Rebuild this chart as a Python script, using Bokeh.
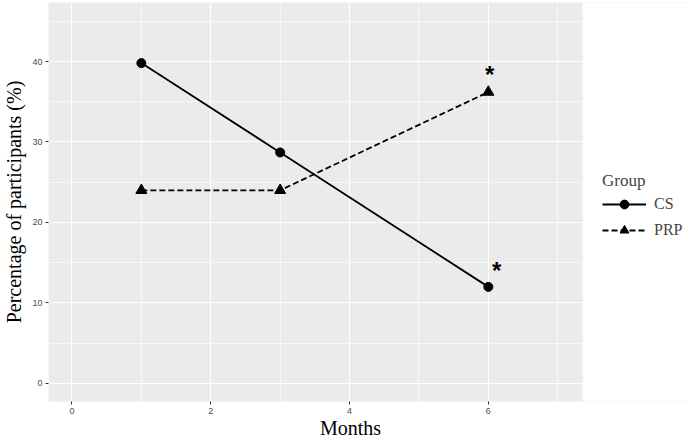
from bokeh.plotting import figure
from bokeh.models import Legend, LegendItem, FixedTicker, Range1d, BoxAnnotation
from bokeh.core.properties import value
from bokeh.embed import file_html
from bokeh.resources import INLINE

# data
months = [1, 3, 6]
cs_values = [39.8, 28.7, 12.0]
prp_values = [24.0, 24.0, 36.2]
star_x = [6.02, 6.12]
star_y = [38.37, 14.0]
x_ticks = [0, 2, 4, 6]
y_ticks = [0, 10, 20, 30, 40]
panel_right = 7.36  # end of the grey panel in data units

p = figure(width=687, height=442, output_backend="svg", toolbar_location=None,
           x_range=Range1d(-0.338, 8.87), y_range=Range1d(-2.24, 47.33),
           min_border_left=47, min_border_right=0, min_border_top=2,
           min_border_bottom=41)

p.background_fill_color = "#EBEBEB"
p.border_fill_color = "white"
p.outline_line_color = None

for ax in (p.xaxis[0], p.yaxis[0]):
    ax.axis_line_color = None
    ax.major_tick_line_color = "#333333"
    ax.major_tick_out = 3
    ax.major_tick_in = 0
    ax.minor_tick_line_color = None
    ax.major_label_text_color = "#4D4D4D"
    ax.major_label_text_font = "Liberation Sans"
    ax.major_label_text_font_size = "9px"
    ax.major_label_standoff = 2
    ax.axis_label_text_font = "Liberation Serif"
    ax.axis_label_text_font_style = "normal"
    ax.axis_label_text_font_size = "20px"
    ax.axis_label_text_color = "black"

p.xaxis.ticker = FixedTicker(ticks=x_ticks, minor_ticks=[1, 3, 5, 7])
p.yaxis.ticker = FixedTicker(ticks=y_ticks, minor_ticks=[5, 15, 25, 35, 45])

p.yaxis.axis_label = "Percentage of participants (%)"
p.yaxis.axis_label_standoff = 4
p.xaxis.axis_label = "Months" + "\u00a0" * 7
p.xaxis.axis_label_standoff = 0

for g in (p.xgrid[0], p.ygrid[0]):
    g.grid_line_color = "white"
    g.grid_line_width = 1.2
    g.minor_grid_line_color = "white"
    g.minor_grid_line_width = 0.6

# white area to the right of the grey panel (legend area)
p.add_layout(BoxAnnotation(left=panel_right, fill_color="white", fill_alpha=1,
                           line_color=None))

cs_line = p.line(months, cs_values, line_color="black", line_width=1.8)
cs_pts = p.scatter(months, cs_values, marker="circle", size=9, fill_color="black",
                   line_color="black")
prp_line = p.line(months, prp_values, line_color="black", line_width=1.8,
                  line_dash="6 3")
prp_pts = p.scatter(months, prp_values, marker="triangle", size=11,
                    fill_color="black", line_color="black")

p.text(star_x, star_y, text=["*", "*"], text_font=value("Liberation Sans"),
       text_font_size="24px", text_font_style="bold", text_align="center",
       text_baseline="middle", text_color="black")

legend = Legend(items=[LegendItem(label="CS", renderers=[cs_line, cs_pts]),
                       LegendItem(label="PRP", renderers=[prp_line, prp_pts])],
                location=(554, 160), title="Group")
legend.title_text_font = "Liberation Serif"
legend.title_text_font_size = "17px"
legend.title_text_font_style = "normal"
legend.title_standoff = 2
legend.label_text_font = "Liberation Serif"
legend.label_text_font_size = "16px"
legend.glyph_width = 44
legend.glyph_height = 22
legend.label_standoff = 8
legend.spacing = 4
legend.padding = 3
legend.margin = 0
legend.border_line_color = None
legend.background_fill_color = "white"
legend.background_fill_alpha = 1
p.add_layout(legend, "center")

open("out.html", "w").write(file_html(p, INLINE))
